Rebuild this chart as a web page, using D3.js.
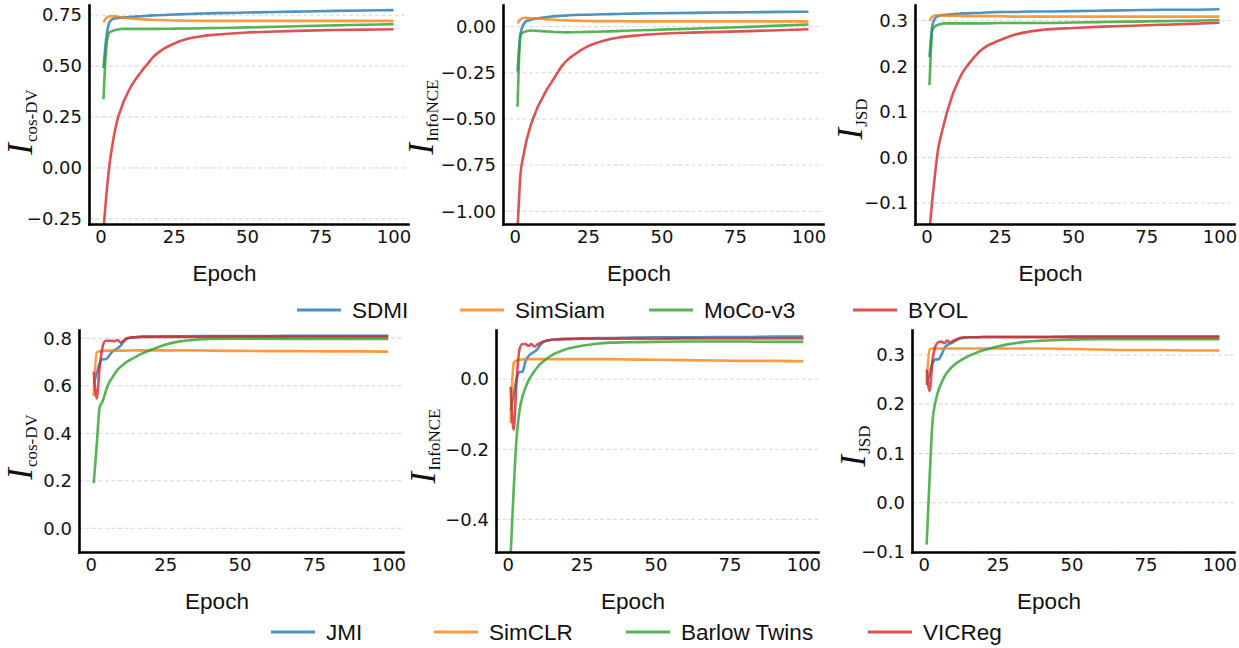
<!DOCTYPE html>
<html>
<head>
<meta charset="utf-8">
<script src="https://cdn.jsdelivr.net/npm/d3@7"></script>
<style>
  body { margin: 0; background: #fff; }
  svg { display: block; }
</style>
</head>
<body>
<svg id="drawing_region"></svg>
<script>
const epochs = [1, 2, 3, 4, 5, 6, 7, 8, 9, 10, 11, 12, 14, 16, 18, 20, 25, 30, 35, 40, 50, 60, 70, 80, 90, 100];

const topMethods = ['SDMI', 'SimSiam', 'MoCo-v3', 'BYOL'];
const bottomMethods = ['JMI', 'SimCLR', 'Barlow Twins', 'VICReg'];
const xTicks = [0, 25, 50, 75, 100];

// top row, I_cos-DV
const sdmiCos = [0.49, 0.645, 0.715, 0.73, 0.735, 0.737, 0.738, 0.739, 0.740, 0.741, 0.742, 0.743, 0.745, 0.747, 0.749, 0.750, 0.753, 0.756, 0.758, 0.760, 0.763, 0.766, 0.768, 0.771, 0.773, 0.775];
const simsiamCos = [0.715, 0.737, 0.743, 0.745, 0.744, 0.742, 0.740, 0.738, 0.736, 0.735, 0.733, 0.732, 0.730, 0.728, 0.727, 0.726, 0.724, 0.723, 0.722, 0.722, 0.722, 0.722, 0.722, 0.722, 0.722, 0.722];
const mocoCos = [0.338, 0.60, 0.665, 0.672, 0.677, 0.680, 0.682, 0.683, 0.683, 0.683, 0.683, 0.683, 0.683, 0.683, 0.683, 0.683, 0.684, 0.685, 0.686, 0.687, 0.690, 0.693, 0.697, 0.700, 0.703, 0.706];
const byolCos = [-0.30, -0.13, 0.01, 0.11, 0.19, 0.25, 0.29, 0.33, 0.36, 0.39, 0.415, 0.435, 0.475, 0.51, 0.545, 0.57, 0.61, 0.635, 0.648, 0.655, 0.665, 0.67, 0.674, 0.677, 0.679, 0.681];

// top row, I_InfoNCE
const sdmiNce = [-0.243, -0.04, 0.012, 0.03, 0.035, 0.04, 0.043, 0.046, 0.048, 0.05, 0.052, 0.054, 0.057, 0.059, 0.061, 0.063, 0.065, 0.067, 0.069, 0.071, 0.073, 0.075, 0.077, 0.078, 0.080, 0.081];
const simsiamNce = [0.018, 0.04, 0.047, 0.048, 0.047, 0.046, 0.045, 0.044, 0.043, 0.042, 0.040, 0.039, 0.037, 0.035, 0.034, 0.033, 0.031, 0.030, 0.030, 0.029, 0.029, 0.029, 0.029, 0.029, 0.029, 0.029];
const mocoNce = [-0.433, -0.045, -0.030, -0.025, -0.022, -0.021, -0.022, -0.023, -0.024, -0.025, -0.026, -0.027, -0.029, -0.030, -0.031, -0.030, -0.028, -0.026, -0.024, -0.021, -0.016, -0.011, -0.006, -0.001, 0.006, 0.012];
const byolNce = [-1.10, -0.80, -0.70, -0.62, -0.56, -0.51, -0.47, -0.43, -0.40, -0.37, -0.34, -0.315, -0.265, -0.215, -0.18, -0.155, -0.105, -0.077, -0.06, -0.05, -0.038, -0.032, -0.028, -0.024, -0.019, -0.014];

// top row, I_JSD
const sdmiJsd = [0.22, 0.29, 0.306, 0.31, 0.312, 0.313, 0.313, 0.314, 0.314, 0.315, 0.315, 0.316, 0.316, 0.317, 0.317, 0.318, 0.319, 0.319, 0.320, 0.320, 0.321, 0.322, 0.323, 0.324, 0.324, 0.325];
const simsiamJsd = [0.300, 0.309, 0.312, 0.312, 0.312, 0.311, 0.311, 0.311, 0.311, 0.311, 0.311, 0.310, 0.310, 0.310, 0.310, 0.310, 0.310, 0.309, 0.309, 0.309, 0.309, 0.309, 0.309, 0.309, 0.309, 0.309];
const mocoJsd = [0.159, 0.28, 0.288, 0.291, 0.293, 0.294, 0.294, 0.294, 0.294, 0.294, 0.294, 0.294, 0.294, 0.294, 0.294, 0.294, 0.295, 0.295, 0.295, 0.295, 0.296, 0.297, 0.298, 0.299, 0.300, 0.3015];
const byolJsd = [-0.16, -0.09, -0.03, 0.02, 0.05, 0.075, 0.10, 0.12, 0.14, 0.155, 0.17, 0.183, 0.202, 0.218, 0.232, 0.242, 0.257, 0.269, 0.276, 0.280, 0.284, 0.287, 0.289, 0.291, 0.293, 0.2955];

// bottom row, I_cos-DV
const jmiCos = [0.61, 0.65, 0.695, 0.712, 0.712, 0.723, 0.741, 0.75, 0.758, 0.768, 0.786, 0.797, 0.804, 0.806, 0.807, 0.807, 0.808, 0.808, 0.809, 0.809, 0.810, 0.810, 0.811, 0.811, 0.811, 0.811];
const simclrCos = [0.556, 0.74, 0.745, 0.747, 0.748, 0.748, 0.748, 0.748, 0.748, 0.748, 0.748, 0.748, 0.749, 0.749, 0.749, 0.749, 0.749, 0.749, 0.749, 0.748, 0.747, 0.746, 0.746, 0.745, 0.745, 0.744];
const barlowCos = [0.19, 0.35, 0.51, 0.535, 0.575, 0.61, 0.63, 0.65, 0.668, 0.68, 0.69, 0.70, 0.714, 0.728, 0.74, 0.75, 0.773, 0.787, 0.794, 0.797, 0.798, 0.798, 0.797, 0.797, 0.797, 0.797];
const vicregCos = [0.66, 0.547, 0.68, 0.765, 0.79, 0.79, 0.79, 0.788, 0.793, 0.782, 0.79, 0.80, 0.804, 0.805, 0.806, 0.806, 0.806, 0.806, 0.806, 0.807, 0.807, 0.807, 0.807, 0.807, 0.807, 0.807];

// bottom row, I_InfoNCE
const jmiNce = [-0.088, -0.045, 0.0, 0.02, 0.021, 0.05, 0.065, 0.073, 0.078, 0.085, 0.097, 0.105, 0.111, 0.113, 0.114, 0.115, 0.116, 0.117, 0.117, 0.118, 0.119, 0.119, 0.120, 0.120, 0.121, 0.121];
const simclrNce = [-0.126, 0.045, 0.053, 0.055, 0.056, 0.057, 0.057, 0.057, 0.057, 0.057, 0.057, 0.057, 0.057, 0.057, 0.057, 0.057, 0.057, 0.057, 0.057, 0.056, 0.055, 0.054, 0.053, 0.052, 0.052, 0.051];
const barlowNce = [-0.50, -0.32, -0.17, -0.09, -0.05, -0.025, -0.005, 0.01, 0.022, 0.033, 0.043, 0.05, 0.063, 0.073, 0.08, 0.086, 0.095, 0.101, 0.104, 0.105, 0.106, 0.107, 0.107, 0.107, 0.106, 0.106];
const vicregNce = [-0.022, -0.145, -0.005, 0.085, 0.10, 0.10, 0.095, 0.10, 0.093, 0.098, 0.103, 0.107, 0.111, 0.113, 0.114, 0.114, 0.115, 0.115, 0.115, 0.115, 0.115, 0.116, 0.116, 0.116, 0.116, 0.116];

// bottom row, I_JSD
const jmiJsd = [0.239, 0.262, 0.283, 0.291, 0.291, 0.30, 0.314, 0.32, 0.323, 0.326, 0.330, 0.333, 0.335, 0.336, 0.336, 0.337, 0.337, 0.337, 0.337, 0.337, 0.338, 0.338, 0.338, 0.338, 0.338, 0.338];
const simclrJsd = [0.243, 0.311, 0.313, 0.313, 0.313, 0.313, 0.313, 0.313, 0.313, 0.313, 0.313, 0.313, 0.313, 0.313, 0.313, 0.313, 0.313, 0.313, 0.313, 0.313, 0.312, 0.311, 0.310, 0.310, 0.309, 0.309];
const barlowJsd = [-0.085, 0.05, 0.165, 0.205, 0.228, 0.243, 0.256, 0.265, 0.272, 0.278, 0.283, 0.287, 0.294, 0.300, 0.305, 0.309, 0.317, 0.323, 0.327, 0.329, 0.331, 0.332, 0.332, 0.332, 0.332, 0.332];
const vicregJsd = [0.27, 0.227, 0.29, 0.318, 0.326, 0.327, 0.324, 0.329, 0.325, 0.329, 0.331, 0.334, 0.336, 0.336, 0.336, 0.336, 0.336, 0.336, 0.336, 0.336, 0.336, 0.336, 0.336, 0.336, 0.336, 0.336];

const colors = ['#1f77b4', '#ff7f0e', '#2ca02c', '#d62728'];

const panels = [
    { left: 89, right: 408, top: 5, bottom: 224, ydom: [-0.275, 0.80], yticks: [-0.25, 0, 0.25, 0.5, 0.75], fmt: '.2f',
      sub: 'cos-DV', series: [sdmiCos, simsiamCos, mocoCos, byolCos], labelX: 32, labelY: 122 },
    { left: 503, right: 823, top: 5, bottom: 224, ydom: [-1.069, 0.1175], yticks: [-1, -0.75, -0.5, -0.25, 0], fmt: '.2f',
      sub: 'InfoNCE', series: [sdmiNce, simsiamNce, mocoNce, byolNce], labelX: 433, labelY: 117 },
    { left: 915, right: 1234, top: 5, bottom: 224, ydom: [-0.146, 0.3344], yticks: [-0.1, 0, 0.1, 0.2, 0.3], fmt: '.1f',
      sub: 'JSD', series: [sdmiJsd, simsiamJsd, mocoJsd, byolJsd], labelX: 862, labelY: 119 },
    { left: 79, right: 403, top: 330, bottom: 552, ydom: [-0.1, 0.835], yticks: [0, 0.2, 0.4, 0.6, 0.8], fmt: '.1f',
      sub: 'cos-DV', series: [jmiCos, simclrCos, barlowCos, vicregCos], labelX: 32, labelY: 447 },
    { left: 496, right: 818, top: 330, bottom: 552, ydom: [-0.493, 0.14], yticks: [-0.4, -0.2, 0], fmt: '.1f',
      sub: 'InfoNCE', series: [jmiNce, simclrNce, barlowNce, vicregNce], labelX: 435, labelY: 446 },
    { left: 912, right: 1234, top: 330, bottom: 552, ydom: [-0.1, 0.3506], yticks: [-0.1, 0, 0.1, 0.2, 0.3], fmt: '.1f',
      sub: 'JSD', series: [jmiJsd, simclrJsd, barlowJsd, vicregJsd], labelX: 865, labelY: 446 },
];

const legends = [
    { names: topMethods, y: 310, starts: [297, 460, 649, 853] },
    { names: bottomMethods, y: 632, starts: [271, 434, 626, 868] },
];

const svg = d3.select('#drawing_region')
    .attr('width', 1239)
    .attr('height', 648);

const tickFont = 'DejaVu Sans';
const labelFont = 'Liberation Sans, Arial, Helvetica, sans-serif';

panels.forEach((p, i) => {
    const xscale = d3.scaleLinear().domain([-3.95, 104.95]).range([p.left, p.right]);
    const yscale = d3.scaleLinear().domain(p.ydom).range([p.bottom, p.top]);
    const g = svg.append('g');

    // dashed horizontal grid
    g.selectAll('.grid').data(p.yticks).enter()
        .append('line')
        .attr('class', 'grid')
        .attr('x1', p.left)
        .attr('x2', p.right)
        .attr('y1', d => yscale(d))
        .attr('y2', d => yscale(d))
        .attr('stroke', '#d4d4d4')
        .attr('stroke-width', 1)
        .attr('stroke-dasharray', '4,2.5');

    svg.append('clipPath').attr('id', 'clip' + i)
        .append('rect')
        .attr('x', p.left).attr('y', p.top)
        .attr('width', p.right - p.left)
        .attr('height', p.bottom - p.top);

    const line = d3.line()
        .x((d, j) => xscale(epochs[j]))
        .y(d => yscale(d))
        .curve(d3.curveMonotoneX);

    g.append('g')
        .attr('clip-path', `url(#clip${i})`)
        .selectAll('path').data(p.series).enter()
        .append('path')
        .attr('d', line)
        .attr('fill', 'none')
        .attr('stroke', (d, k) => colors[k])
        .attr('stroke-opacity', 0.8)
        .attr('stroke-width', 2.6)
        .attr('stroke-linejoin', 'round');

    const xaxis = d3.axisBottom(xscale)
        .tickValues(xTicks)
        .tickSize(0)
        .tickPadding(6)
        .tickSizeOuter(0);
    const yaxis = d3.axisLeft(yscale)
        .tickValues(p.yticks)
        .tickFormat(d3.format(p.fmt))
        .tickSize(0)
        .tickPadding(7)
        .tickSizeOuter(0);

    const xg = g.append('g')
        .attr('transform', `translate(0, ${p.bottom})`)
        .call(xaxis);
    const yg = g.append('g')
        .attr('transform', `translate(${p.left}, 0)`)
        .call(yaxis);

    [xg, yg].forEach(ax => {
        ax.select('.domain')
            .attr('stroke', '#000')
            .attr('stroke-width', 2.6)
            .attr('stroke-linecap', 'square');
        ax.selectAll('text')
            .attr('font-family', tickFont)
            .attr('font-size', 18)
            .attr('fill', '#111');
    });

    // x label
    g.append('text')
        .attr('x', (p.left + p.right) / 2 - 24)
        .attr('y', p.bottom + 57)
        .attr('text-anchor', 'middle')
        .attr('font-family', labelFont)
        .attr('font-size', 22.5)
        .attr('fill', '#111')
        .text('Epoch');

    // y label: italic I with roman subscript
    const ylab = g.append('text')
        .attr('transform', `translate(${p.labelX}, ${p.labelY}) rotate(-90)`)
        .attr('text-anchor', 'middle')
        .attr('font-family', 'Liberation Serif, Times New Roman, serif')
        .attr('fill', '#111');
    ylab.append('tspan')
        .attr('font-style', 'italic')
        .attr('font-size', 35)
        .text('I');
    ylab.append('tspan')
        .attr('font-size', 17)
        .attr('dx', 1)
        .attr('dy', 5)
        .text(p.sub);
});

// legends
legends.forEach(lg => {
    const items = svg.append('g').selectAll('g').data(lg.names).enter()
        .append('g')
        .attr('transform', (d, k) => `translate(${lg.starts[k]}, ${lg.y})`);
    items.append('line')
        .attr('x1', 0).attr('x2', 44)
        .attr('y1', 0).attr('y2', 0)
        .attr('stroke', (d, k) => colors[k])
        .attr('stroke-opacity', 0.8)
        .attr('stroke-width', 3.2);
    items.append('text')
        .attr('x', 55)
        .attr('y', 8)
        .attr('font-family', labelFont)
        .attr('font-size', 22.5)
        .attr('fill', '#111')
        .text(d => d);
});
</script>
</body>
</html>
